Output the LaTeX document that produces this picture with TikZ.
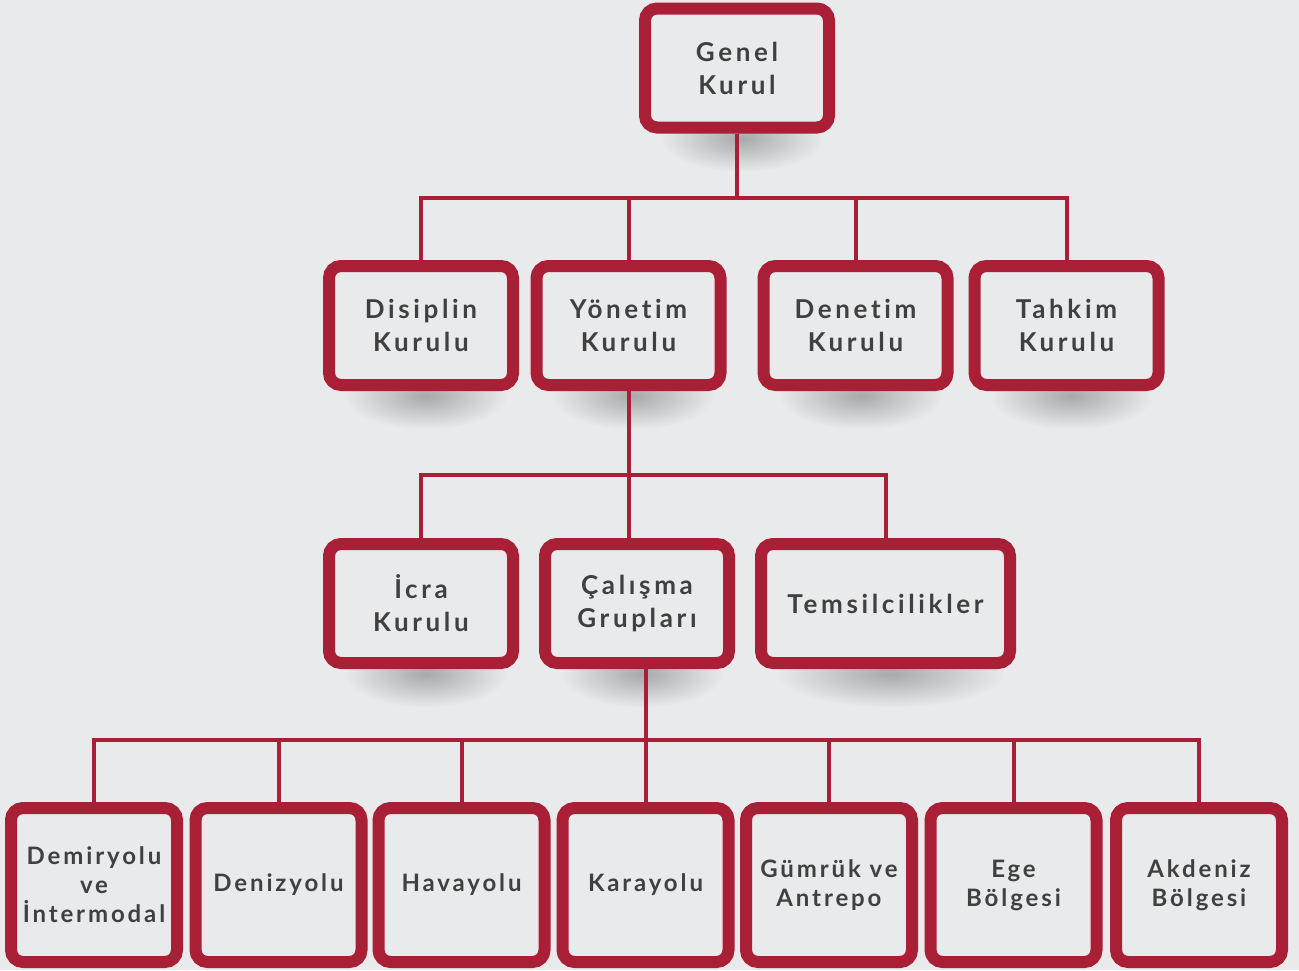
\documentclass[tikz,border=0pt]{standalone}
\usepackage{fontspec}
\setmainfont{Lato}[LetterSpace=12, RawFeature=-liga]
\usetikzlibrary{backgrounds,fadings,calc}
\definecolor{boxred}{HTML}{A91F36}
\definecolor{pagebg}{HTML}{E9EAEC}
\definecolor{textgray}{HTML}{404040}
\definecolor{shadowgray}{HTML}{A8A9AB}
\pgfdeclarelayer{shadow}
\pgfsetlayers{background,shadow,main}
\tikzfading[name=softshadow, inner color=transparent!0, outer color=transparent!100]

\begin{document}
\begin{tikzpicture}[x=1pt,y=-1pt]
    % Define styles for shapes
    \tikzstyle{box} = [draw=boxred, fill=pagebg, line width=12pt, rounded corners=12pt, minimum width=184pt, minimum height=119pt, align=center, text=textgray, font=\bfseries\fontsize{26}{33}\selectfont\addfontfeature{LetterSpace=14}, inner sep=0pt]
    \tikzstyle{widebox} = [box, minimum width=249pt]
    \tikzstyle{leafbox} = [box, minimum width=166pt, minimum height=154pt, font=\bfseries\fontsize{24}{29}\selectfont]
    \tikzstyle{link} = [draw=boxred, line width=4pt]

    \useasboundingbox (0,0) rectangle (1299,970);

    % Draw the boxes
    \node[box] (gk) at (737,68) {Genel\\Kurul};

    \node[box] (dk) at (421,325.5) {Disiplin\\Kurulu};
    \node[box] (yk) at (628.5,325.5) {Yönetim\\Kurulu};
    \node[box] (dnk) at (855.5,325.5) {Denetim\\Kurulu};
    \node[box] (tk) at (1066.5,325.5) {Tahkim\\Kurulu};

    \node[box] (ik) at (421,603.5) {İcra\\Kurulu};
    \node[box] (cg) at (637,603.5) {Çalışma\\Grupları};
    \node[widebox] (tm) at (885.5,603.5) {Temsilcilikler};

    \node[leafbox] (dy) at (94,885) {Demiryolu\\ve\\İntermodal};
    \node[leafbox] (dz) at (278.5,885) {Denizyolu};
    \node[leafbox] (hy) at (461.5,885) {Havayolu};
    \node[leafbox] (ky) at (645.5,885) {Karayolu};
    \node[leafbox] (ga) at (829,885) {Gümrük ve\\Antrepo};
    \node[leafbox] (eb) at (1013.5,885) {Ege\\Bölgesi};
    \node[leafbox] (ab) at (1199,885) {Akdeniz\\Bölgesi};

    % Draw the shadows and the background
    \begin{pgfonlayer}{background}
        \fill[pagebg] (0,0) rectangle (1299,970);
    \end{pgfonlayer}
    \begin{pgfonlayer}{shadow}
        \foreach \n in {gk,dk,yk,dnk,tk,ik,cg,tm}
            \fill[shadowgray, path fading=softshadow] ($(\n.south west)+(22,-28)$) rectangle ($(\n.south east)+(-12,38)$);
    \end{pgfonlayer}

    % Draw the connectors
    \draw[link] (gk.south) -- ++(0,64) coordinate (b1);
    \foreach \n in {dk,yk,dnk,tk}
        \draw[link] (b1) -| (\n.north);

    \draw[link] (yk.south) -- ++(0,84) coordinate (b2);
    \foreach \n in {ik,tm}
        \draw[link] (b2) -| (\n.north);
    \draw[link] (b2) -- (b2 |- cg.north);

    \draw[link] (cg.south -| ky.north) -- ++(0,71) coordinate (b3);
    \foreach \n in {dy,dz,hy,ky,ga,eb,ab}
        \draw[link] (b3) -| (\n.north);

\end{tikzpicture}
\end{document}
